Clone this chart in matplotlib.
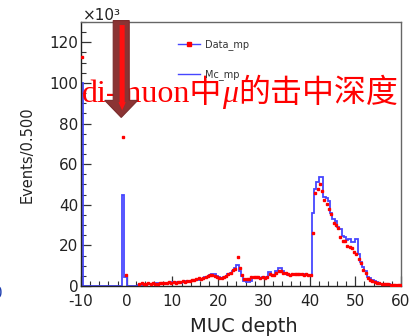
import numpy as np
import matplotlib
matplotlib.use("Agg")
import matplotlib.pyplot as plt
from matplotlib.patches import FancyArrow
from matplotlib.lines import Line2D
from matplotlib.ticker import MultipleLocator

plt.rcParams["axes.unicode_minus"] = False

# Histogram binning: 0.5 wide bins from -10 to 60 (values in units of 10^3)
bin_lo, bin_hi, bin_w = -10.0, 60.0, 0.5

# Monte Carlo (Mc_mp), 10 bins per row = 5 units of MUC depth
mc_counts = [
    100, 0, 0, 0, 0, 0, 0, 0, 0, 0,            # -10 .. -5.5
    0, 0, 0, 0, 0, 0, 0, 0, 45, 4.5,           # -5 .. -0.5
    0, 0, 0, 0, 0, 0.6, 0.5, 0.8, 0.7, 1.0,    # 0 .. 4.5
    0.9, 1.2, 1.0, 1.3, 1.1, 1.4, 1.2, 1.5, 1.3, 1.6,
    1.8, 1.5, 2.0, 1.7, 2.2, 2.4, 2.1, 2.6, 2.3, 2.9,
    3.2, 3.0, 3.6, 3.4, 4.2, 4.6, 5.2, 6.0, 5.8, 4.8,
    4.2, 3.9, 4.3, 4.6, 5.8, 6.6, 7.6, 8.8, 10.5, 7.4,
    5.0, 2.6, 2.2, 2.0, 2.4, 3.8, 4.2, 4.3, 4.1, 4.2,
    4.0, 4.2, 6.8, 5.4, 5.2, 7.6, 8.8, 9.0, 7.2, 6.2,
    5.6, 5.5, 5.6, 5.8, 5.7, 5.9, 5.8, 6.0, 5.7, 5.4,
    5.5, 36, 48, 51, 53.5, 53.5, 44, 43.5, 42, 36,
    33, 32, 29, 28, 24.5, 24, 22.8, 23, 21.5, 21.5,
    23, 16, 12, 9.5, 7.2, 4.6, 4.0, 3.0, 2.6, 1.8,
    1.5, 1.2, 1.1, 1.0, 0.9, 0.7, 0.6, 0.5, 0.4, 0.3,
]

# Data (Data_mp)
data_counts = [
    113, 0, 0, 0, 0, 0, 0, 0, 0, 0,
    0, 0, 0, 0, 0, 0, 0, 0, 73.5, 5.5,
    0, 0, 0, 0, 0, 1.2, 1.3, 1.0, 1.2, 1.4,
    1.1, 1.3, 1.2, 1.0, 1.4, 1.5, 1.3, 1.6, 1.8, 1.5,
    2.0, 1.7, 2.2, 1.9, 2.4, 2.2, 2.6, 2.4, 2.9, 3.2,
    3.4, 3.8, 3.6, 4.0, 4.4, 4.8, 5.2, 5.4, 5.0, 4.6,
    4.0, 3.8, 4.2, 4.8, 6.0, 6.6, 8.0, 8.6, 14.5, 9.0,
    5.6, 3.6, 3.5, 3.4, 4.4, 4.4, 4.2, 4.3, 4.1, 4.3,
    4.1, 4.2, 5.8, 5.4, 5.3, 6.6, 7.4, 7.2, 6.4, 6.2,
    5.8, 5.6, 5.7, 5.8, 6.0, 5.9, 5.8, 5.6, 5.8, 5.5,
    5.2, 26, 46, 48, 50, 47, 42.5, 40.5, 38, 35.5,
    31, 29.8, 28.5, 24, 22.4, 22, 19.5, 19.2, 18.5, 16.5,
    15.9, 13.5, 11.1, 7.9, 6.3, 3.8, 3.2, 2.6, 2.0, 1.6,
    1.3, 1.1, 1.0, 0.9, 0.8, 0.7, 0.6, 0.5, 0.4, 0.3,
]

x_ticks = [-10, 0, 10, 20, 30, 40, 50, 60]
y_ticks = [0, 20, 40, 60, 80, 100, 120]
legend_labels = ["Data_mp", "Mc_mp"]
x_title = "MUC depth"
y_title = "Events/0.500"
note_parts = ["di-muon中", "μ", "的击中深度"]

edges = np.arange(bin_lo, bin_hi + bin_w / 2, bin_w)
mc = np.array(mc_counts)
data = np.array(data_counts)
centers = 0.5 * (edges[:-1] + edges[1:])

W, H = 410, 336
fig = plt.figure(figsize=(W / 100, H / 100), dpi=100)
ax = fig.add_axes([81 / W, 1 - 286 / H, 320 / W, 264 / H])

blue = "#4646ff"
ax.stairs(mc, edges, color=blue, lw=1.3, zorder=2)
m = data > 0
ax.errorbar(centers[m], data[m], yerr=np.sqrt(data[m] * 1000) / 1000,
            fmt="s", ms=2.0, color="red", mec="red", elinewidth=1,
            capsize=0, zorder=3)

ax.set_xlim(bin_lo, bin_hi)
ax.set_ylim(0, 130)
ax.set_xticks(x_ticks)
ax.set_yticks(y_ticks)
ax.xaxis.set_minor_locator(MultipleLocator(2))
ax.yaxis.set_minor_locator(MultipleLocator(5))
ax.tick_params(which="both", direction="in", top=False, right=False,
               colors="#333333", labelcolor="#222222", labelsize=11)
ax.tick_params(which="major", length=7, width=0.9)
ax.tick_params(which="minor", length=3.5, width=0.8)
ax.tick_params(axis="x", pad=6)
ax.tick_params(axis="y", pad=2)
for s in ["left", "bottom"]:
    ax.spines[s].set_color("#222222")
    ax.spines[s].set_linewidth(1.0)
for s in ["right", "top"]:
    ax.spines[s].set_color("#666666")
    ax.spines[s].set_linewidth(1.0)

fig.text(102 / W, 1 - 15 / H, "×10³", ha="center", va="center",
         fontsize=11, color="#222222")
fig.text(27 / W, 1 - 155 / H, y_title, rotation=90, ha="center",
         va="center", fontsize=10.5, color="#222222")
fig.text(244 / W, 1 - 327 / H, x_title, ha="center", va="center",
         fontsize=14, color="#222222")
fig.text(3 / W, 1 - 293 / H, "0", ha="right", va="center",
         fontsize=11, color="#2040b0")

handles = [Line2D([], [], color=blue, lw=1.0, marker="s", ms=3,
                  mfc="red", mec="red"),
           Line2D([], [], color=blue, lw=1.0)]
leg = ax.legend(handles, legend_labels, loc="upper left",
                bbox_to_anchor=(178 / W, 1 - 39 / H),
                bbox_transform=fig.transFigure, frameon=False,
                fontsize=7, handlelength=2.3, handletextpad=0.5,
                labelspacing=2.0, borderpad=0, borderaxespad=0)
for t in leg.get_texts():
    t.set_color("#333333")

# Red annotation text (overlaid)
t1 = ax.text(-9.78, 90.6, note_parts[0], color="red", fontsize=23,
             family=["Liberation Serif", "Noto Sans CJK SC"],
             va="baseline", ha="left", zorder=5)
t2 = ax.annotate(note_parts[1], xy=(1, 0), xycoords=t1, color="red",
                 fontsize=23, family="Liberation Serif", style="italic",
                 va="bottom", ha="left", zorder=5)
t3 = ax.annotate(note_parts[2], xy=(1, 0), xycoords=t2, color="red",
                 fontsize=23, family=["Noto Sans CJK SC", "DejaVu Sans"],
                 va="bottom", ha="left", zorder=5)

# Arrow overlay
arr = FancyArrow(-1.2, 130.7, 0, -47.7, width=3.5, head_width=7.2,
                 head_length=8.4, length_includes_head=True,
                 fc="#8b3434", ec="#7a2c2c", lw=0.8, clip_on=False, zorder=6)
ax.add_patch(arr)
arr2 = FancyArrow(-1.0, 128.5, 0, -42.0, width=1.1, head_width=1.6,
                  head_length=4.0, length_includes_head=True,
                  fc="#ff1010", ec="none", clip_on=False, zorder=7)
ax.add_patch(arr2)

fig.savefig("out.png", dpi=100)
